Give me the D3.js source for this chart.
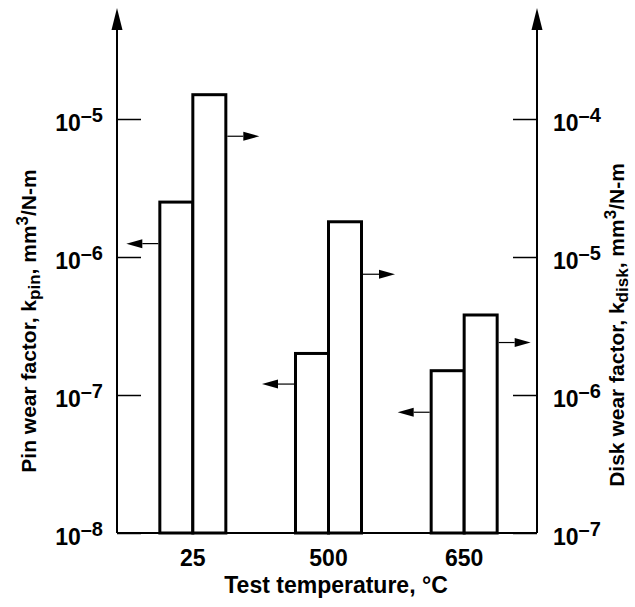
<!DOCTYPE html>
<html>
<head>
<meta charset="utf-8">
<script src="https://cdn.jsdelivr.net/npm/d3@7"></script>
<style>
  body { margin: 0; background: #fff; }
  text { font-family: "Liberation Sans", Arial, sans-serif; font-weight: bold; fill: #000; }
</style>
</head>
<body>
<div id="chart"></div>
<script>
// data
const temps = ["25", "500", "650"];
const pinWear = [2.5e-6, 2.0e-7, 1.5e-7];     // left axis
const diskWear = [1.5e-4, 1.8e-5, 3.8e-6];    // right axis
// where each "which axis" arrow sits, in axis units
const pinArrowAt = [1.25e-6, 1.2e-7, 7.5e-8];
const diskArrowAt = [7.5e-5, 7.5e-6, 2.4e-6];
const pinTicks = [1e-8, 1e-7, 1e-6, 1e-5];
const diskTicks = [1e-7, 1e-6, 1e-5, 1e-4];

const width = 635;
const height = 607;
const left = 117, right = 537, base = 533;

const svg = d3.select("#chart")
  .append("svg")
  .attr("width", width)
  .attr("height", height);

const x = d3.scaleBand().domain(temps).range([125, 532]).paddingInner(0).paddingOuter(0);
const barW = 33;

const yPin = d3.scaleLog().domain([1e-8, 1e-5]).range([base, 119]);
const yDisk = d3.scaleLog().domain([1e-7, 1e-4]).range([base, 119]);

const cx = d => x(d) + x.bandwidth() / 2;

// superscript tick labels: 10^-n
function powLabel(sel) {
  sel.each(function (d) {
    const t = d3.select(this).text("");
    t.append("tspan").text("10");
    t.append("tspan").attr("dy", -9).attr("font-size", 20).text("\u2013" + (-Math.round(Math.log10(d))));
  });
}

// left axis
const gL = svg.append("g").attr("transform", `translate(${left},0)`)
  .call(d3.axisLeft(yPin).tickValues(pinTicks).tickSizeInner(-24).tickSizeOuter(0).tickPadding(14));
gL.select(".domain").remove();
gL.selectAll(".tick line").attr("stroke-width", 1.5);
gL.selectAll(".tick text")
  .attr("font-size", 23)
  .attr("dy", "0.5em")
  .call(powLabel);

// right axis
const gR = svg.append("g").attr("transform", `translate(${right},0)`)
  .call(d3.axisRight(yDisk).tickValues(diskTicks).tickSizeInner(-24).tickSizeOuter(0).tickPadding(16));
gR.select(".domain").remove();
gR.selectAll(".tick line").attr("stroke-width", 1.5);
gR.selectAll(".tick text")
  .attr("font-size", 23)
  .attr("dy", "0.5em")
  .call(powLabel);

// vertical axis lines with arrow heads
[left, right].forEach(px => {
  svg.append("line")
    .attr("x1", px).attr("x2", px)
    .attr("y1", base).attr("y2", 26)
    .attr("stroke", "#000").attr("stroke-width", 2);
  svg.append("path")
    .attr("d", `M${px},8 L${px - 5.5},30 L${px + 5.5},30 Z`)
    .attr("fill", "#000");
});

// baseline
svg.append("line")
  .attr("x1", left).attr("x2", right)
  .attr("y1", base).attr("y2", base)
  .attr("stroke", "#000").attr("stroke-width", 2);

// bars
svg.selectAll(".pin")
  .data(temps)
  .join("rect")
  .attr("class", "pin")
  .attr("x", d => cx(d) - barW)
  .attr("y", (d, i) => yPin(pinWear[i]))
  .attr("width", barW)
  .attr("height", (d, i) => base - yPin(pinWear[i]))
  .attr("fill", "#fff").attr("stroke", "#000").attr("stroke-width", 3);

svg.selectAll(".disk")
  .data(temps)
  .join("rect")
  .attr("class", "disk")
  .attr("x", d => cx(d))
  .attr("y", (d, i) => yDisk(diskWear[i]))
  .attr("width", barW)
  .attr("height", (d, i) => base - yDisk(diskWear[i]))
  .attr("fill", "#fff").attr("stroke", "#000").attr("stroke-width", 3);

// little arrows telling which axis a bar belongs to
function pointer(x0, y0, dir) {
  const len = 32, head = 16, hw = 4.5;
  const tip = x0 + dir * len;
  svg.append("line")
    .attr("x1", x0).attr("x2", tip - dir * head)
    .attr("y1", y0).attr("y2", y0)
    .attr("stroke", "#000").attr("stroke-width", 1.2);
  svg.append("path")
    .attr("d", `M${tip},${y0} L${tip - dir * head},${y0 - hw} L${tip - dir * head},${y0 + hw} Z`)
    .attr("fill", "#000");
}
temps.forEach((d, i) => {
  pointer(cx(d) - barW - 1.5, yPin(pinArrowAt[i]), -1);
  pointer(cx(d) + barW + 1.5, yDisk(diskArrowAt[i]), 1);
});

// category labels
svg.selectAll(".cat")
  .data(temps)
  .join("text")
  .attr("class", "cat")
  .attr("x", d => cx(d))
  .attr("y", 566)
  .attr("text-anchor", "middle")
  .attr("font-size", 23)
  .text(d => d);

svg.append("text")
  .attr("x", 336)
  .attr("y", 593)
  .attr("text-anchor", "middle")
  .attr("font-size", 23)
  .text("Test temperature, \u00B0C");

// axis titles
function axisTitle(xPos, yPos, main, sub) {
  const t = svg.append("text")
    .attr("transform", `translate(${xPos},${yPos}) rotate(-90)`)
    .attr("text-anchor", "middle")
    .attr("font-size", 21);
  t.append("tspan").text(main + ", k");
  t.append("tspan").attr("dy", 4).attr("font-size", 17).text(sub);
  t.append("tspan").attr("dy", -4).text(", mm");
  t.append("tspan").attr("dy", -8).attr("font-size", 17).text("3");
  t.append("tspan").attr("dy", 8).text("/N-m");
}
axisTitle(36, 321, "Pin wear factor", "pin");
axisTitle(624, 325, "Disk wear factor", "disk");
</script>
</body>
</html>
